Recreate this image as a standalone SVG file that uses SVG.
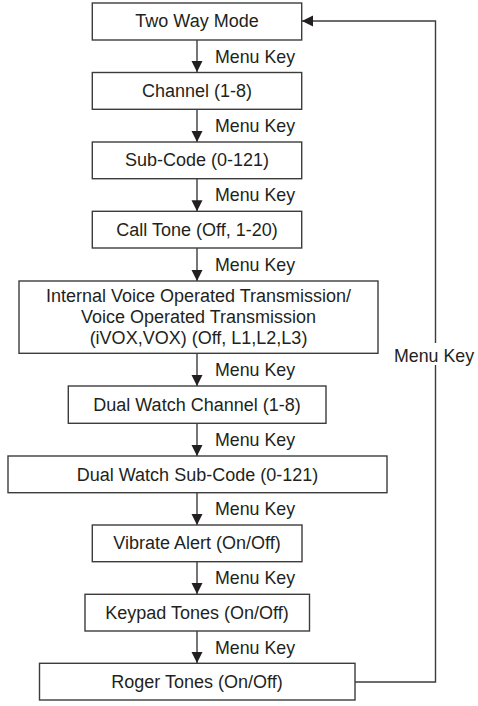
<svg xmlns="http://www.w3.org/2000/svg" width="478" height="706" viewBox="0 0 478 706">
<style>
.box{fill:#fff;stroke:#3c3c3c;stroke-width:1.4}
.t{font-family:"Liberation Sans",Arial,sans-serif;font-size:18px;fill:#231f20;text-anchor:middle}
.l{font-family:"Liberation Sans",Arial,sans-serif;font-size:17.8px;fill:#231f20}
.c{fill:none;stroke:#3c3c3c;stroke-width:1.4}
</style>
<defs>
<marker id="ah" markerUnits="userSpaceOnUse" markerWidth="12" markerHeight="12" refX="11" refY="5.5" orient="auto">
<path d="M0,0 L11,5.5 L0,11 z" fill="#231f20"/>
</marker>
</defs>
<rect width="478" height="706" fill="#fff"/>
<g id="connectors">
<line class="c" x1="197" y1="40" x2="197" y2="72" marker-end="url(#ah)"/>
<line class="c" x1="197" y1="109" x2="197" y2="142" marker-end="url(#ah)"/>
<line class="c" x1="197" y1="178.7" x2="197" y2="211.3" marker-end="url(#ah)"/>
<line class="c" x1="197" y1="248" x2="197" y2="281" marker-end="url(#ah)"/>
<line class="c" x1="197" y1="353" x2="197" y2="386" marker-end="url(#ah)"/>
<line class="c" x1="197" y1="423.3" x2="197" y2="456" marker-end="url(#ah)"/>
<line class="c" x1="197" y1="492.7" x2="197" y2="525" marker-end="url(#ah)"/>
<line class="c" x1="197" y1="561.7" x2="197" y2="594" marker-end="url(#ah)"/>
<line class="c" x1="197" y1="631" x2="197" y2="663" marker-end="url(#ah)"/>
<polyline class="c" points="355,682 435.5,682 435.5,365"/>
<polyline class="c" points="435.5,343 435.5,21 302,21" marker-end="url(#ah)"/>
<text class="l" x="215" y="62.7">Menu Key</text>
<text class="l" x="215" y="131.5">Menu Key</text>
<text class="l" x="215" y="201.3">Menu Key</text>
<text class="l" x="215" y="270.5">Menu Key</text>
<text class="l" x="215" y="375.5">Menu Key</text>
<text class="l" x="215" y="445.5">Menu Key</text>
<text class="l" x="215" y="515">Menu Key</text>
<text class="l" x="215" y="584">Menu Key</text>
<text class="l" x="215" y="653.5">Menu Key</text>
<text class="l" x="394" y="361.5">Menu Key</text>
</g>
<g id="n1"><rect class="box" x="92.3" y="3" width="209.4" height="37"/><text class="t" x="197" y="27">Two Way Mode</text></g>
<g id="n2"><rect class="box" x="92.3" y="72.5" width="209.4" height="36.8"/><text class="t" x="197" y="97">Channel (1-8)</text></g>
<g id="n3"><rect class="box" x="92.3" y="142" width="209.4" height="36.7"/><text class="t" x="197" y="166">Sub-Code (0-121)</text></g>
<g id="n4"><rect class="box" x="92.3" y="211.3" width="209.4" height="36.7"/><text class="t" x="197" y="235.5">Call Tone (Off, 1-20)</text></g>
<g id="n5"><rect class="box" x="19" y="281" width="359" height="72.3"/>
<text class="t" x="198.5" y="301.5">Internal Voice Operated Transmission/</text>
<text class="t" x="198.5" y="322.5">Voice Operated Transmission</text>
<text class="t" x="198.5" y="343.5">(iVOX,VOX) (Off, L1,L2,L3)</text></g>
<g id="n6"><rect class="box" x="68.3" y="386" width="257.7" height="37.3"/><text class="t" x="197" y="410.5">Dual Watch Channel (1-8)</text></g>
<g id="n7"><rect class="box" x="8" y="456" width="379" height="36.7"/><text class="t" x="197.5" y="480.5">Dual Watch Sub-Code (0-121)</text></g>
<g id="n8"><rect class="box" x="92.3" y="525" width="209.7" height="36.7"/><text class="t" x="197" y="549">Vibrate Alert (On/Off)</text></g>
<g id="n9"><rect class="box" x="85" y="594.3" width="224.5" height="36.7"/><text class="t" x="197" y="618.5">Keypad Tones (On/Off)</text></g>
<g id="n10"><rect class="box" x="39.5" y="663.3" width="315.5" height="36.7"/><text class="t" x="197" y="687.5">Roger Tones (On/Off)</text></g>
</svg>
